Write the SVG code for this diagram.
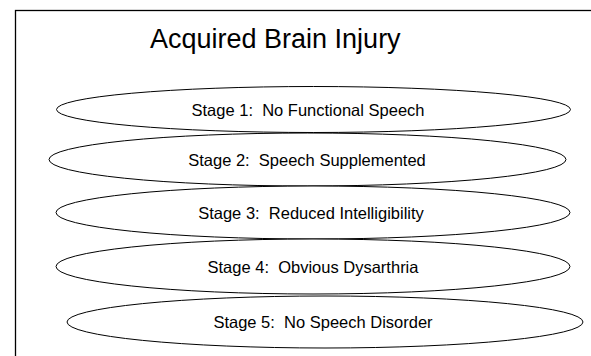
<svg xmlns="http://www.w3.org/2000/svg" width="591" height="356" viewBox="0 0 591 356">
<style>
.st{fill:#fff;stroke:#000;stroke-width:1}
.lb{font-family:"Liberation Sans",Arial,sans-serif;font-size:16.5px;fill:#000;text-anchor:middle;white-space:pre}
.tt{font-family:"Liberation Sans",Arial,sans-serif;font-size:27px;fill:#000}
</style>
<rect x="0" y="0" width="591" height="356" fill="#fff"/>
<rect id="frame" x="15.5" y="10.5" width="600" height="400" fill="none" stroke="#000" stroke-width="1.3"/>
<text id="title" class="tt" x="150" y="48">Acquired Brain Injury</text>
<g id="connectors"></g>
<g id="stage1"><ellipse class="st" cx="313.5" cy="109.5" rx="257" ry="23"/><text class="lb" x="308" y="115.5" xml:space="preserve">Stage 1:  No Functional Speech</text></g>
<g id="stage2"><ellipse class="st" cx="307.5" cy="159.5" rx="258.5" ry="26.5"/><text class="lb" x="307" y="165.5" xml:space="preserve">Stage 2:  Speech Supplemented</text></g>
<g id="stage3"><ellipse class="st" cx="313" cy="212.5" rx="257" ry="26.5"/><text class="lb" x="311" y="218.5" xml:space="preserve">Stage 3:  Reduced Intelligibility</text></g>
<g id="stage4"><ellipse class="st" cx="313" cy="266.5" rx="257" ry="27.5"/><text class="lb" x="313" y="272.5" xml:space="preserve">Stage 4:  Obvious Dysarthria</text></g>
<g id="stage5"><ellipse class="st" cx="325" cy="322" rx="258" ry="26"/><text class="lb" x="323" y="328" xml:space="preserve">Stage 5:  No Speech Disorder</text></g>
</svg>
